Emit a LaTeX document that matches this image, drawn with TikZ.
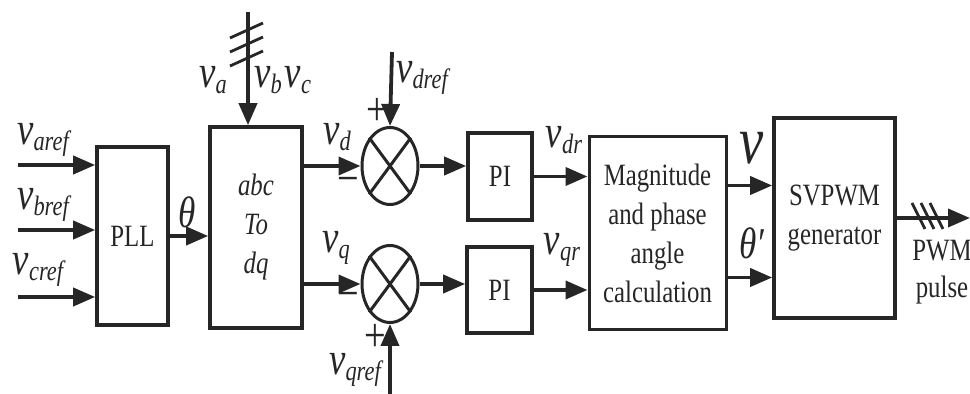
\documentclass[tikz,border=0pt]{standalone}
\usepackage{fontspec}
\setmainfont[FakeStretch=0.8]{Liberation Serif}
\usetikzlibrary{shapes.geometric,arrows.meta}

\newcommand{\volt}[1]{{\fontsize{23}{23}\selectfont\itshape v}\raisebox{-3pt}{\fontsize{14}{14}\selectfont\itshape #1}}

\begin{document}
\begin{tikzpicture}[x=0.5pt, y=-0.5pt,
    block/.style={draw=black!85, line width=1.8pt, inner sep=0pt, align=center,
        text=black!85, font=\fontsize{15.5}{19.5}\selectfont},
    summer/.style={draw=black!85, ellipse, line width=1.5pt, inner sep=0pt,
        minimum width=28pt, minimum height=38.5pt},
    sig/.style={draw=black!85, line width=1.9pt, -{Triangle[length=11pt,width=9pt]}},
    tick/.style={draw=black!85, line width=1.4pt},
    lbl/.style={inner sep=0pt, text=black!85}]
    \useasboundingbox (0,0) rectangle (970,394);

    % blocks
    \node(pll)[block, minimum width=35.5pt, minimum height=89pt] at (132.5,236) {PLL};
    \node(conv)[block, minimum width=46pt, minimum height=100.5pt] at (256,227.5) {\itshape abc\\\itshape To\\\itshape dq};
    \node(sumd)[summer] at (390,166) {};
    \node(sumq)[summer] at (390,284) {};
    \node(pid)[block, minimum width=32pt, minimum height=43.5pt] at (500,176.5) {PI};
    \node(piq)[block, minimum width=32.5pt, minimum height=43pt] at (499.5,290) {PI};
    \node(mag)[block, line width=1.5pt, minimum width=68.5pt, minimum height=96.5pt] at (657.5,233.5)
        {Magnitude\\and phase\\angle\\calculation};
    \node(svpwm)[block, minimum width=60.5pt, minimum height=100pt] at (834.5,218) {SVPWM\\generator};

    \foreach \s in {sumd,sumq} {
        \draw[draw=black!85, line width=1.5pt] (\s.north west) -- (\s.south east);
        \draw[draw=black!85, line width=1.5pt] (\s.north east) -- (\s.south west);
    }

    % inputs of the PLL
    \foreach \y [count=\i] in {165,230,297} {
        \coordinate (ref-\i) at (18,\y);
        \draw[sig] (ref-\i) -- (ref-\i -| pll.west);
    }
    \coordinate (abcin) at (248,12);
    \coordinate (dref) at (392,52);
    \coordinate (qref) at (390,394);
    \coordinate (pwmout) at (970,218);

    % connectors
    \draw[sig] (pll.east) -- (pll.east -| conv.west);
    \draw[sig] (abcin) -- (abcin |- conv.north);
    \draw[sig] (sumd.west -| conv.east) -- (sumd.west);
    \draw[sig] (sumq.west -| conv.east) -- (sumq.west);
    \draw[sig] (dref) -- (sumd.north);
    \draw[sig] (qref) -- (sumq.south);
    \draw[sig] (sumd.east) -- (sumd.east -| pid.west);
    \draw[sig] (sumq.east) -- (sumq.east -| piq.west);
    \draw[sig] (pid.east) -- (pid.east -| mag.west);
    \draw[sig] (piq.east) -- (piq.east -| mag.west);
    \draw[sig] ([yshift=24pt]mag.east) -- ([yshift=24pt]mag.east -| svpwm.west);
    \draw[sig] ([yshift=-22pt]mag.east) -- ([yshift=-22pt]mag.east -| svpwm.west);
    \draw[sig] (svpwm.east) -- (pwmout);

    % three-phase ticks
    \foreach \d in {0,14,28} {
        \draw[tick] (230,38+\d) -- (263,23+\d);
    }
    \foreach \d in {0,9,18} {
        \draw[tick] (912+\d,203) -- (925+\d,229);
    }

    % labels
    \node(l-aref)[lbl] at (43,140) {\volt{aref}};
    \node(l-bref)[lbl] at (43,205) {\volt{bref}};
    \node(l-cref)[lbl] at (38,270) {\volt{cref}};
    \node(l-theta)[lbl, font=\fontsize{22}{22}\selectfont\itshape] at (187,212) {θ};
    \node(l-a)[lbl] at (213,80) {\volt{a}};
    \node(l-b)[lbl] at (268,80) {\volt{b}};
    \node(l-c)[lbl] at (298,80) {\volt{c}};
    \node(l-d)[lbl] at (337,137) {\volt{d}};
    \node(l-q)[lbl] at (336,248) {\volt{q}};
    \node(l-dref)[lbl] at (422,78) {\volt{dref}};
    \node(l-qref)[lbl] at (355,370) {\volt{qref}};
    \node(l-dr)[lbl] at (564,140) {\volt{dr}};
    \node(l-qr)[lbl] at (562,250) {\volt{qr}};
    \node(l-v)[lbl, font=\fontsize{34}{34}\selectfont\itshape] at (752,148) {v};
    \node(l-thetap)[lbl, font=\fontsize{22}{22}\selectfont\itshape] at (752,243) {θ′};
    \node(l-pwm)[lbl, align=center, font=\fontsize{15.5}{18.5}\selectfont] at (942,272) {PWM\\pulse};

    % signs
    \foreach \txt/\x/\y [count=\i] in {+/377/112, −/348/186, −/348/301, +/375/338} {
        \node(sign-\i)[lbl, font=\fontsize{24}{24}\selectfont] at (\x,\y) {\txt};
    }
\end{tikzpicture}
\end{document}
